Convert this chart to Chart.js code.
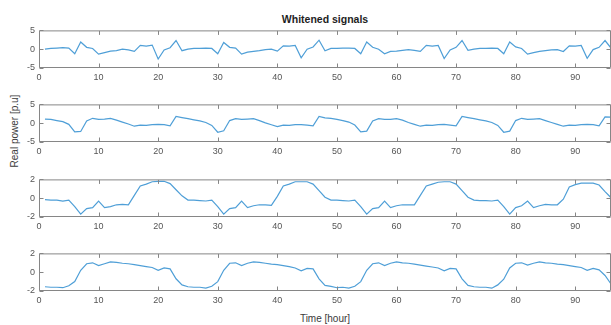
<!DOCTYPE html>
<html><head><meta charset="utf-8">
<script src="https://cdn.jsdelivr.net/npm/chart.js@4.4.1/dist/chart.umd.min.js"></script>
<style>
html,body{margin:0;padding:0;background:#fff;}
#wrap{position:relative;width:611px;height:325px;overflow:hidden;font-family:"Liberation Sans",Arial,sans-serif;}
canvas{position:absolute;left:0;}
.lbl{position:absolute;white-space:nowrap;line-height:1;}
#title{left:325px;top:19px;transform:translate(-50%,-50%);font-weight:bold;font-size:10.5px;color:#1e1e1e;}
#xlab{left:325px;top:319px;transform:translate(-50%,-50%);font-size:10px;color:#3a3a3a;}
#ylab{left:15px;top:131px;transform:translate(-50%,-50%) rotate(-90deg);font-size:10px;color:#3a3a3a;}
</style></head><body>
<div id="wrap">
<div class="lbl" id="title">Whitened signals</div>
<div class="lbl" id="ylab">Real power [p.u]</div>
<div class="lbl" id="xlab">Time [hour]</div>
<canvas id="c0"></canvas><canvas id="c1"></canvas><canvas id="c2"></canvas><canvas id="c3"></canvas>
</div>
<script>
// Time axis: hours 1..96
const hours = Array.from({length: 96}, (_, i) => i + 1);
const xTickStep = 10;

const signal1 = [
  0.0, 0.2, 0.3, 0.4, 0.3, -1.2, 1.9, 0.5, 0.2, -1.3, -0.9, -0.5, -0.4, 0.0, -0.2, -0.6, 1.0, 0.8, 1.1, -2.6, -0.2, 0.4, 2.3, -0.4,
  0.0, 0.2, 0.2, 0.3, 0.2, -1.2, 1.8, 0.5, 0.3, -1.3, -0.8, -0.6, -0.4, -0.1, 0.0, -0.5, 0.9, 0.8, 1.0, -2.3, 0.0, 0.6, 2.4, -0.4,
  0.2, 0.2, 0.3, 0.3, 0.2, -1.2, 1.9, 0.5, 0.0, -1.2, -0.6, -0.5, -0.3, -0.1, -0.3, -0.6, 1.0, 0.8, 1.0, -2.5, -0.2, 0.5, 2.3, -0.3,
  0.0, 0.2, 0.2, 0.3, 0.2, -1.2, 1.9, 0.6, 0.2, -1.3, -0.9, -0.6, -0.4, -0.2, -0.1, -0.6, 0.9, 0.8, 1.0, -2.4, -0.1, 0.5, 2.3, 0.3
];
const signal2 = [
  1.1, 1.0, 0.7, 0.4, -0.3, -2.3, -2.2, 0.6, 1.3, 1.0, 1.1, 1.3, 0.8, 0.3, -0.2, -0.8, -0.5, -0.6, -0.4, -0.3, -0.4, -0.7, 1.8, 1.5,
  1.2, 0.9, 0.6, 0.2, -0.6, -2.4, -2.0, 0.7, 1.2, 1.0, 1.1, 1.2, 0.7, 0.1, -0.4, -0.9, -0.5, -0.6, -0.4, -0.4, -0.5, -0.7, 1.8, 1.4,
  1.3, 1.0, 0.7, 0.3, -0.5, -2.3, -2.1, 0.6, 1.2, 1.0, 1.0, 1.2, 0.8, 0.2, -0.3, -0.8, -0.5, -0.6, -0.4, -0.3, -0.5, -0.7, 1.8, 1.5,
  1.2, 0.9, 0.6, 0.2, -0.6, -2.4, -2.1, 0.7, 1.3, 1.0, 1.1, 1.2, 0.7, 0.2, -0.3, -0.8, -0.5, -0.6, -0.4, -0.3, -0.4, -0.7, 1.7, 1.6
];
const signal3 = [
  -0.15, -0.2, -0.2, -0.3, -0.2, -0.9, -1.7, -1.1, -1.0, -0.3, -1.0, -0.9, -0.7, -0.65, -0.7, 0.3, 1.3, 1.5, 1.75, 1.8, 1.8, 1.55, 0.9, 0.25,
  -0.2, -0.2, -0.25, -0.3, -0.2, -0.9, -1.7, -1.1, -1.0, -0.3, -1.0, -0.8, -0.7, -0.7, -0.75, 0.2, 1.3, 1.5, 1.75, 1.75, 1.75, 1.5, 0.8, 0.1,
  -0.2, -0.2, -0.25, -0.3, -0.2, -0.9, -1.7, -1.1, -1.0, -0.3, -1.0, -0.8, -0.7, -0.7, -0.7, 0.3, 1.3, 1.5, 1.7, 1.75, 1.75, 1.5, 0.8, 0.1,
  -0.2, -0.25, -0.25, -0.3, -0.2, -0.9, -1.7, -1.0, -0.8, -0.3, -1.0, -0.8, -0.65, -0.7, -0.7, -0.1, 1.2, 1.45, 1.6, 1.6, 1.6, 1.4, 0.7, 0.05
];
const signal4 = [
  -1.55, -1.6, -1.6, -1.65, -1.45, -1.0, 0.2, 0.9, 1.0, 0.7, 0.9, 1.1, 1.05, 0.95, 0.9, 0.8, 0.7, 0.6, 0.5, 0.2, 0.45, 0.35, -0.7, -1.35,
  -1.55, -1.6, -1.6, -1.7, -1.5, -1.0, 0.2, 0.95, 1.0, 0.7, 0.95, 1.1, 1.05, 0.95, 0.85, 0.8, 0.7, 0.6, 0.45, 0.15, 0.4, 0.35, -0.7, -1.4,
  -1.5, -1.65, -1.6, -1.7, -1.5, -1.0, 0.2, 0.9, 1.0, 0.7, 0.95, 1.1, 1.0, 0.95, 0.85, 0.75, 0.65, 0.55, 0.45, 0.15, 0.4, 0.35, -0.7, -1.4,
  -1.55, -1.6, -1.6, -1.7, -1.35, -0.75, 0.45, 0.95, 1.0, 0.75, 0.95, 1.1, 1.0, 0.95, 0.85, 0.8, 0.7, 0.6, 0.5, 0.2, 0.4, 0.25, -0.35, -1.25
];
const signals = [signal1, signal2, signal3, signal4];
const yLimits = [[-5, 5], [-5, 5], [-2, 2], [-2, 2]];
const yTickSteps = [5, 5, 2, 2];

// layout
const plotTops = [29, 103, 178, 252];
const plotH = 39, padTop = 8, xAxisH = 18, yAxisW = 39;
const LINE = '#4f9fd7', AXIS = '#868686', TXT = '#555555';

const boxPlugin = {
  id: 'matlabBox',
  afterDraw(chart) {
    const {ctx, chartArea: a, scales: {x, y}} = chart;
    ctx.save();
    ctx.strokeStyle = AXIS; ctx.lineWidth = 1;
    const L = a.left + 0.5, R = a.right - 0.5, T = a.top + 0.5, B = a.bottom - 0.5;
    ctx.beginPath();
    ctx.rect(L, T, R - L, B - T);
    const tl = 4;
    x.ticks.forEach(t => {
      const px = Math.round(x.getPixelForValue(t.value)) + 0.5;
      ctx.moveTo(px, B); ctx.lineTo(px, B - tl);
      ctx.moveTo(px, T); ctx.lineTo(px, T + tl);
    });
    y.ticks.forEach(t => {
      const py = Math.round(y.getPixelForValue(t.value)) + 0.5;
      ctx.moveTo(L, py); ctx.lineTo(L + tl, py);
      ctx.moveTo(R, py); ctx.lineTo(R - tl, py);
    });
    ctx.stroke();
    ctx.restore();
  }
};

signals.forEach((sig, i) => {
  const cv = document.getElementById('c' + i);
  cv.width = 611; cv.height = padTop + plotH + xAxisH;
  cv.style.width = '611px'; cv.style.height = cv.height + 'px';
  cv.style.top = (plotTops[i] - padTop) + 'px';
  new Chart(cv, {
    type: 'line',
    data: {
      datasets: [{
        data: hours.map((h, k) => ({x: h, y: sig[k]})),
        borderColor: LINE, borderWidth: 1.2, pointRadius: 0, tension: 0, fill: false
      }]
    },
    options: {
      responsive: false, animation: false, devicePixelRatio: 1,
      layout: {padding: {top: padTop, left: 0, right: 0, bottom: 0}},
      plugins: {legend: {display: false}, tooltip: {enabled: false}, title: {display: false}},
      scales: {
        x: {
          type: 'linear', min: 0, max: 96,
          grid: {display: false, drawTicks: false},
          border: {display: false},
          ticks: {stepSize: xTickStep, includeBounds: false, padding: 4, maxRotation: 0, autoSkip: false,
                  color: TXT, font: {family: '"Liberation Sans", Arial, sans-serif', size: 9}},
          afterFit(s) { s.height = xAxisH; }
        },
        y: {
          min: yLimits[i][0], max: yLimits[i][1],
          grid: {display: false, drawTicks: false},
          border: {display: false},
          ticks: {stepSize: yTickSteps[i], padding: 4, color: TXT,
                  font: {family: '"Liberation Sans", Arial, sans-serif', size: 9}},
          afterFit(s) { s.width = yAxisW; }
        }
      }
    },
    plugins: [boxPlugin]
  });
});
</script>
</body></html>
